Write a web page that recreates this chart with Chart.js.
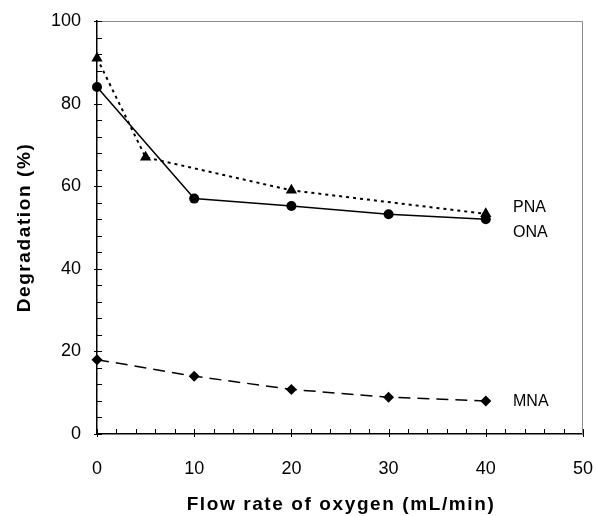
<!DOCTYPE html>
<html>
<head>
<meta charset="utf-8">
<script src="https://cdn.jsdelivr.net/npm/chart.js@4/dist/chart.umd.min.js"></script>
<style>
  html, body { margin: 0; padding: 0; background: #fff; }
  #wrap { width: 596px; height: 516px; }
</style>
</head>
<body>
<div id="wrap"><canvas id="grafico" width="596" height="516"></canvas></div>
<script>
// datos
const flujoPNA = [0, 5, 20, 40];
const degPNA = [91, 67, 59, 53.3];
const flujoONA = [0, 10, 20, 30, 40];
const degONA = [84, 57, 55.2, 53.2, 52];
const flujoMNA = [0, 10, 20, 30, 40];
const degMNA = [18, 14, 10.8, 8.9, 8];
const nombres = ['PNA', 'ONA', 'MNA'];
const tituloX = 'Flow rate of oxygen (mL/min)';
const tituloY = 'Degradation (%)';

const fuente = '"Liberation Sans", Arial, Helvetica, sans-serif';

function puntos(xs, ys) {
  return xs.map((x, i) => ({ x: x, y: ys[i] }));
}

// ticks hacia dentro + marco gris arriba/derecha + etiquetas y titulos
const decoracion = {
  id: 'decoracion',
  afterDatasetsDraw(chart) {
    const ctx = chart.ctx;
    const a = chart.chartArea;
    const sx = chart.scales.x, sy = chart.scales.y;
    ctx.save();
    // marco
    ctx.strokeStyle = '#8a8a8a';
    ctx.lineWidth = 1;
    ctx.beginPath();
    ctx.moveTo(a.left, a.top + 0.5);
    ctx.lineTo(a.right - 0.5, a.top + 0.5);
    ctx.lineTo(a.right - 0.5, a.bottom);
    ctx.stroke();
    // ticks
    ctx.strokeStyle = '#000';
    ctx.lineWidth = 1;
    ctx.beginPath();
    for (let v = 0; v <= 50; v += 2) {
      const px = Math.round(sx.getPixelForValue(v)) + 0.5;
      const mayor = v % 10 === 0;
      ctx.moveTo(px, a.bottom + (mayor ? 3 : 0));
      ctx.lineTo(px, a.bottom - 5);
    }
    for (let v = 0; v <= 100; v += 4) {
      const py = Math.round(sy.getPixelForValue(v)) + 0.5;
      const mayor = v % 20 === 0;
      ctx.moveTo(a.left - (mayor ? 3 : 0), py);
      ctx.lineTo(a.left + 5, py);
    }
    ctx.stroke();
    // etiquetas de serie
    ctx.fillStyle = '#000';
    ctx.font = '16px ' + fuente;
    ctx.textAlign = 'left';
    ctx.textBaseline = 'middle';
    const pos = [[42.8, 54.8], [42.8, 48.7], [42.8, 7.8]];
    nombres.forEach((n, i) => {
      ctx.fillText(n, sx.getPixelForValue(pos[i][0]), sy.getPixelForValue(pos[i][1]));
    });
    // titulos de ejes
    ctx.font = 'bold 19px ' + fuente;
    ctx.letterSpacing = '1.6px';
    ctx.textAlign = 'center';
    ctx.textBaseline = 'alphabetic';
    ctx.fillText(tituloX, (a.left + a.right) / 2 + 1, 510);
    ctx.translate(30, (a.top + a.bottom) / 2);
    ctx.rotate(-Math.PI / 2);
    ctx.fillText(tituloY, 0, 0);
    ctx.restore();
  }
};

new Chart(document.getElementById('grafico'), {
  type: 'scatter',
  data: {
    datasets: [{
      label: 'PNA',
      data: puntos(flujoPNA, degPNA),
      showLine: true,
      borderColor: '#000',
      borderWidth: 2,
      borderDash: [3, 4],
      pointStyle: 'triangle',
      pointRadius: 6.5,
      backgroundColor: '#000',
      pointBorderWidth: 0,
      clip: false
    }, {
      label: 'ONA',
      data: puntos(flujoONA, degONA),
      showLine: true,
      borderColor: '#000',
      borderWidth: 1.5,
      pointStyle: 'circle',
      pointRadius: 5,
      backgroundColor: '#000',
      pointBorderWidth: 0,
      clip: false
    }, {
      label: 'MNA',
      data: puntos(flujoMNA, degMNA),
      showLine: true,
      borderColor: '#000',
      borderWidth: 1.5,
      borderDash: [12, 7],
      pointStyle: 'rectRot',
      pointRadius: 5.5,
      backgroundColor: '#000',
      pointBorderWidth: 0,
      clip: false
    }]
  },
  options: {
    responsive: false,
    animation: false,
    layout: { padding: { left: 0, right: 13, top: 21, bottom: 0 } },
    plugins: {
      legend: { display: false },
      tooltip: { enabled: false }
    },
    scales: {
      x: {
        type: 'linear',
        min: 0, max: 50,
        afterFit(s) { s.height = 82; },
        grid: { drawOnChartArea: false, drawTicks: true, tickLength: 21, color: 'rgba(0,0,0,0)' },
        border: { color: '#000', width: 1.5 },
        ticks: { stepSize: 10, padding: 3, color: '#000', font: { family: fuente, size: 18 } },
        title: { display: false }
      },
      y: {
        min: 0, max: 100,
        afterFit(s) { s.width = 97; },
        grid: { drawOnChartArea: false, drawTicks: true, tickLength: 14, color: 'rgba(0,0,0,0)' },
        border: { color: '#000', width: 1.5 },
        ticks: { stepSize: 20, padding: 2, color: '#000', font: { family: fuente, size: 18 } },
        title: { display: false }
      }
    }
  },
  plugins: [decoracion]
});
</script>
</body>
</html>
